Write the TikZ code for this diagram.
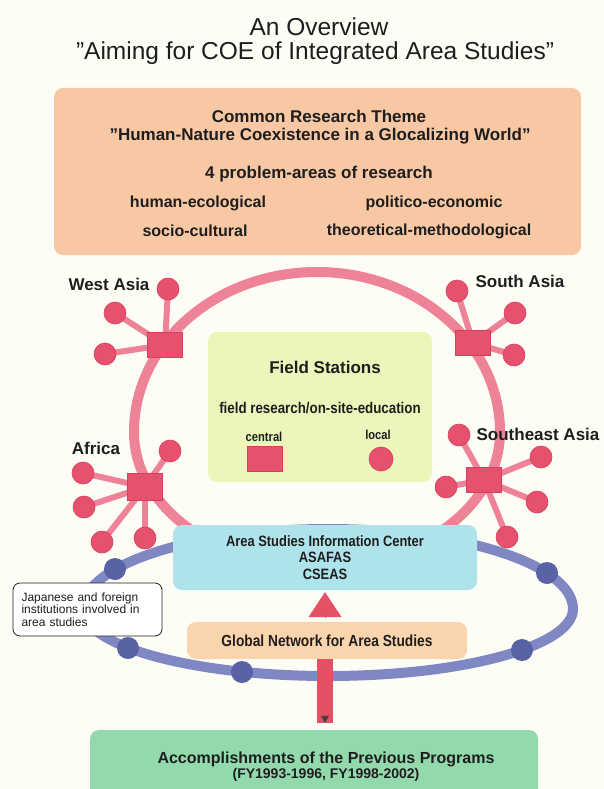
\documentclass[tikz,border=0pt]{standalone}
\usepackage{fontspec}
\setmainfont{Liberation Sans}
\newfontfamily\narrowfont[FakeStretch=0.86]{Liberation Sans}
\usetikzlibrary{arrows.meta,calc}

\pgfdeclarelayer{back}
\pgfsetlayers{back,main}

\definecolor{cream}{RGB}{253,253,246}
\definecolor{ink}{RGB}{30,30,30}
\definecolor{peach}{RGB}{248,199,163}
\definecolor{lime}{RGB}{237,245,187}
\definecolor{ringpink}{RGB}{238,130,150}
\definecolor{hubred}{RGB}{230,82,110}
\definecolor{hubedge}{RGB}{214,62,92}
\definecolor{infoblue}{RGB}{175,227,235}
\definecolor{netblue}{RGB}{128,136,196}
\definecolor{dotblue}{RGB}{88,98,165}
\definecolor{gnetpeach}{RGB}{250,212,172}
\definecolor{mint}{RGB}{146,218,172}
\definecolor{arrowred}{RGB}{228,80,100}

\newcommand\fsz[2]{\fontsize{#1}{#2}\selectfont}

\begin{document}
\begin{tikzpicture}[x=1pt,y=-1pt,
        hub/.style={draw=hubedge,fill=hubred,line width=0.6pt,minimum width=35pt,minimum height=25pt,inner sep=0pt},
        station/.style={circle,draw=hubedge,fill=hubred,line width=0.6pt,minimum size=22pt,inner sep=0pt},
        netdot/.style={circle,fill=dotblue,minimum size=22pt,inner sep=0pt},
        spoke/.style={draw=ringpink,line width=6pt},
        panel/.style={rounded corners=9pt,inner sep=0pt},
        region/.style={font=\fsz{17}{19}\bfseries,text=ink,inner sep=0pt},
        boxtext/.style={font=\fsz{16}{18}\bfseries,text=ink,inner sep=0pt},
        narrowtext/.style={font=\narrowfont\fsz{15}{16.5}\bfseries,text=ink,align=center}]

            \useasboundingbox (0,0) rectangle (604,789);
            \begin{pgfonlayer}{back}
                \fill [cream] (0,0) rectangle (604,789);
            \end{pgfonlayer}

            % title
            \node [font=\fsz{24.5}{28},text=ink] (title) at (319,27) {An Overview};
            \node [font=\fsz{24.5}{28},text=ink] (subtitle) at (315,53) {”Aiming for COE of Integrated Area Studies”};

            % common research theme
            \node [panel,fill=peach,minimum width=527pt,minimum height=167pt] (theme) at (317.5,171.5) {};
            \node [region] (themehead) at (319,116) {Common Research Theme};
            \node [region] (themename) at (320,136) {”Human-Nature Coexistence in a Glocalizing World”};
            \node [region] (problems) at (319,174) {4 problem-areas of research};
            \node [boxtext] (human) at (198,203) {human-ecological};
            \node [boxtext] (politico) at (434,203) {politico-economic};
            \node [boxtext] (socio) at (195,231) {socio-cultural};
            \node [boxtext] (theory) at (429,231) {theoretical-methodological};

            % field stations
            \node [panel,fill=lime,minimum width=224pt,minimum height=150pt] (field) at (320,407) {};
            \node [region] (fieldhead) at (325,367) {Field Stations};
            \node [narrowtext,font=\narrowfont\fsz{15.5}{17}\bfseries] (fieldwork) at (320,408) {field research/on-site-education};
            \node [narrowtext,font=\narrowfont\fsz{13}{14}\bfseries] (central) at (264,437) {central};
            \node [narrowtext,font=\narrowfont\fsz{13}{14}\bfseries] (local) at (378,435) {local};
            \node [hub] (centralkey) at (265,459) {};
            \node [station,minimum size=24pt] (localkey) at (381,459) {};

            % ring of field stations: top half, then bottom half
            % X % left 134  right 500      Y % top 272  middle 432
            \draw [ringpink,line width=10pt] (134,432)
                arc [start angle=180,end angle=360,x radius=183,y radius=160]
                arc [start angle=0,end angle=180,x radius=183,y radius=135];

            \node [hub] (wa) at (165,345) {};
            \node [hub,minimum height=27pt] (af) at (145,487) {};
            \node [hub] (sa) at (473,343) {};
            \node [hub] (sea) at (484,480) {};

            \foreach \x/\y [count=\i] in {168/289,115/313,105/354}
                {\node [station] (wa\i) at (\x,\y) {};}
            \foreach \x/\y [count=\i] in {170/451,83/473,84/507,102/542,145/538}
                {\node [station] (af\i) at (\x,\y) {};}
            \foreach \x/\y [count=\i] in {457/291,515/313,514/355}
                {\node [station] (sa\i) at (\x,\y) {};}
            \foreach \x/\y [count=\i] in {459/435,541/457,446/487,537/502,507/537}
                {\node [station] (sea\i) at (\x,\y) {};}

            \begin{pgfonlayer}{back}
                \foreach \i in {1,2,3}
                    {\draw [spoke] (wa.center) -- (wa\i.center);
                     \draw [spoke] (sa.center) -- (sa\i.center);}
                \foreach \i in {1,...,5}
                    {\draw [spoke] (af.center) -- (af\i.center);
                     \draw [spoke] (sea.center) -- (sea\i.center);}
            \end{pgfonlayer}

            \node [region] (walabel) at (109,284) {West Asia};
            \node [region] (salabel) at (520,281) {South Asia};
            \node [region] (aflabel) at (96,448) {Africa};
            \node [region] (sealabel) at (538,434) {Southeast Asia};

            % network ring of institutions
            \draw [netblue,line width=10pt] (83,609)
                arc [start angle=180,end angle=360,x radius=245,y radius=80]
                arc [start angle=0,end angle=180,x radius=245,y radius=67];
            \node [netdot] (n1) at (115,569) {};
            \node [netdot] (n2) at (547,573) {};
            \node [netdot] (n3) at (128,648) {};
            \node [netdot] (n4) at (242,672) {};
            \node [netdot] (n5) at (522,650) {};

            % boxes of the lower part
            \node [panel,fill=mint,minimum width=448pt,minimum height=70pt] (prev) at (314,765) {};
            \node [region,font=\fsz{16}{18}\bfseries] (prevhead) at (326,759) {Accomplishments of the Previous Programs};
            \node [region,font=\fsz{14}{16}\bfseries] (prevyears) at (326,775) {(FY1993-1996, FY1998-2002)};

            \node [panel,fill=infoblue,minimum width=304pt,minimum height=65pt,narrowtext] (info) at (325,557.5)
                {Area Studies Information Center\\ASAFAS\\CSEAS};

            \node [panel,fill=gnetpeach,minimum width=280pt,minimum height=37pt,narrowtext,font=\narrowfont\fsz{16}{18}\bfseries] (gnet) at (327,640.5)
                {Global Network for Area Studies};

            \coordinate (foot) at ($(gnet.south |- prev.north)+(-2,-7)$);
            \coordinate (barhead) at ($(gnet.south)+(-2,0)$);
            \draw [arrowred,line width=16pt] (foot) -- (barhead);
            \fill [black!75] (foot) -- ++(-4,-7) -- ++(8,0) -- cycle;
            \draw [arrowred,line width=1pt,-{Triangle[length=25pt,width=33pt]},shorten <=5pt,shorten >=2pt]
                ($(gnet.north)+(-2,0)$) -- ($(gnet.north |- info.south)+(-2,0)$);

            \node [draw=ink,line width=0.8pt,rounded corners=7pt,fill=white,minimum width=149pt,minimum height=53pt,
                   text width=132pt,align=left,font=\fsz{12}{12.5},text=ink] (inst) at (87.5,609.5)
                {Japanese and foreign\\institutions involved in\\area studies};
        \end{tikzpicture}
\end{document}
